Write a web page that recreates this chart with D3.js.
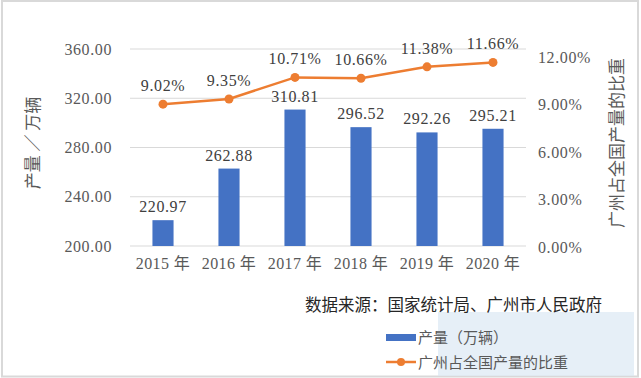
<!DOCTYPE html>
<html>
<head>
<meta charset="utf-8">
<script src="https://cdn.jsdelivr.net/npm/d3@7"></script>
<style>
body { margin: 0; background: #fff; }
</style>
</head>
<body>
<div id="chart"></div>
<script>
// data
var years = ["2015", "2016", "2017", "2018", "2019", "2020"];
var output = [220.97, 262.88, 310.81, 296.52, 292.26, 295.21];
var share = [9.02, 9.35, 10.71, 10.66, 11.38, 11.66];
var leftTicks = [200, 240, 280, 320, 360];
var rightTicks = [0, 3, 6, 9, 12];

var w = 641, h = 378;
var gray = "#595959";
var serif = "'Liberation Serif', 'Times New Roman', 'Noto Sans CJK SC', serif";
var cjk = "'Noto Sans CJK SC', sans-serif";

var svg = d3.select("#chart").append("svg")
    .attr("width", w)
    .attr("height", h);

// border
svg.append("rect")
    .attr("x", 2).attr("y", 1)
    .attr("width", w - 5).attr("height", h - 2.5)
    .attr("fill", "#fff")
    .attr("stroke", "#d9d9d9")
    .attr("stroke-width", 2);

var x = d3.scaleBand()
    .domain(years)
    .range([130, 526])
    .paddingInner(0.68)
    .paddingOuter(0.34);

var y = d3.scaleLinear()
    .domain([200, 360])
    .range([246, 49]);

var y2 = d3.scaleLinear()
    .domain([0, 12])
    .range([247, 57]);

// grid lines
svg.append("g")
    .selectAll("line")
    .data(leftTicks)
    .enter()
    .append("line")
    .attr("x1", 130).attr("x2", 526)
    .attr("y1", function(d) { return y(d); })
    .attr("y2", function(d) { return y(d); })
    .attr("stroke", "#d9d9d9")
    .attr("stroke-width", 1);

// left axis labels
var yAxis = d3.axisLeft(y)
    .tickValues(leftTicks)
    .tickSize(0)
    .tickPadding(18)
    .tickFormat(function(d) { return d.toFixed(2); });
var ga = svg.append("g").attr("transform", "translate(130,0)").call(yAxis);
ga.select(".domain").remove();
ga.selectAll("text")
    .attr("fill", gray)
    .style("font-family", serif)
    .style("font-size", "16px")
    .style("letter-spacing", "0.6px");

// right axis labels
var yAxis2 = d3.axisRight(y2)
    .tickValues(rightTicks)
    .tickSize(0)
    .tickPadding(12)
    .tickFormat(function(d) { return d.toFixed(2) + "%"; });
var gb = svg.append("g").attr("transform", "translate(526,0)").call(yAxis2);
gb.select(".domain").remove();
gb.selectAll("text")
    .attr("fill", gray)
    .style("font-family", serif)
    .style("font-size", "16px")
    .style("letter-spacing", "0.6px");

// x axis labels
var xAxis = d3.axisBottom(x)
    .tickSize(0)
    .tickPadding(12)
    .tickFormat(function(d) { return d + " 年"; });
var gx = svg.append("g").attr("transform", "translate(0,246)").call(xAxis);
gx.select(".domain").remove();
gx.selectAll("text")
    .attr("fill", gray)
    .style("font-family", serif)
    .style("font-size", "16px")
    .style("letter-spacing", "0.4px");

// bars
svg.selectAll("rect.bar")
    .data(output)
    .enter()
    .append("rect")
    .attr("class", "bar")
    .attr("x", function(d, i) { return x(years[i]); })
    .attr("y", function(d) { return y(d); })
    .attr("width", x.bandwidth())
    .attr("height", function(d) { return y(200) - y(d); })
    .attr("fill", "#4472c4");

svg.selectAll("text.barlbl")
    .data(output)
    .enter()
    .append("text")
    .attr("class", "barlbl")
    .attr("x", function(d, i) { return x(years[i]) + x.bandwidth() / 2; })
    .attr("y", function(d) { return y(d) - 8; })
    .attr("text-anchor", "middle")
    .attr("fill", "#404040")
    .style("font-family", serif)
    .style("font-size", "16px")
    .style("letter-spacing", "0.6px")
    .text(function(d) { return d.toFixed(2); });

// line
var line = d3.line()
    .x(function(d, i) { return x(years[i]) + x.bandwidth() / 2; })
    .y(function(d) { return y2(d); });

svg.append("path")
    .datum(share)
    .attr("d", line)
    .attr("fill", "none")
    .attr("stroke", "#ed7d31")
    .attr("stroke-width", 2.5);

svg.selectAll("circle.pt")
    .data(share)
    .enter()
    .append("circle")
    .attr("class", "pt")
    .attr("cx", function(d, i) { return x(years[i]) + x.bandwidth() / 2; })
    .attr("cy", function(d) { return y2(d); })
    .attr("r", 4.5)
    .attr("fill", "#ed7d31");

svg.selectAll("text.linelbl")
    .data(share)
    .enter()
    .append("text")
    .attr("class", "linelbl")
    .attr("x", function(d, i) { return x(years[i]) + x.bandwidth() / 2; })
    .attr("y", function(d) { return y2(d) - 13; })
    .attr("text-anchor", "middle")
    .attr("fill", "#404040")
    .style("font-family", serif)
    .style("font-size", "16px")
    .style("letter-spacing", "0.6px")
    .text(function(d) { return d.toFixed(2) + "%"; });

// axis titles
svg.append("text")
    .attr("transform", "translate(39,143) rotate(-90)")
    .attr("text-anchor", "middle")
    .attr("fill", gray)
    .style("font-family", cjk)
    .style("font-size", "17px")
    .text("产量 ／ 万辆");

svg.append("text")
    .attr("transform", "translate(623,143) rotate(-90)")
    .attr("text-anchor", "middle")
    .attr("fill", gray)
    .style("font-family", cjk)
    .style("font-size", "17px")
    .text("广州占全国产量的比重");

// pale watermark panel (bottom right)
svg.append("rect")
    .attr("x", 438).attr("y", 312)
    .attr("width", 196).attr("height", 64)
    .attr("fill", "#dce8f3")
    .attr("opacity", 0.7);

// source
svg.append("text")
    .attr("x", 305).attr("y", 311)
    .attr("fill", "#262626")
    .style("font-family", cjk)
    .style("font-size", "16.5px")
    .text("数据来源：国家统计局、广州市人民政府");

// legend
svg.append("rect")
    .attr("x", 386).attr("y", 334)
    .attr("width", 30).attr("height", 7)
    .attr("fill", "#4472c4");
svg.append("text")
    .attr("x", 418).attr("y", 343)
    .attr("fill", gray)
    .style("font-family", cjk)
    .style("font-size", "15px")
    .text("产量（万辆）");

svg.append("line")
    .attr("x1", 386).attr("x2", 416)
    .attr("y1", 362).attr("y2", 362)
    .attr("stroke", "#ed7d31")
    .attr("stroke-width", 2.5);
svg.append("circle")
    .attr("cx", 401).attr("cy", 362)
    .attr("r", 4)
    .attr("fill", "#ed7d31");
svg.append("text")
    .attr("x", 418).attr("y", 368)
    .attr("fill", gray)
    .style("font-family", cjk)
    .style("font-size", "15px")
    .text("广州占全国产量的比重");
</script>
</body>
</html>
